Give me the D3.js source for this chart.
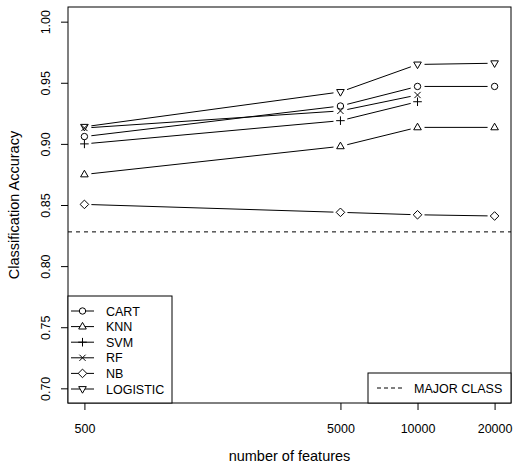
<!DOCTYPE html>
<html>
<head>
<meta charset="utf-8">
<script src="https://cdn.jsdelivr.net/npm/d3@7/dist/d3.min.js"></script>
<style>
  html, body { margin: 0; padding: 0; background: #fff; }
  svg { display: block; }
  text { font-family: "Liberation Sans", Arial, Helvetica, sans-serif; fill: #000; }
</style>
</head>
<body>
<svg id="chart" width="514" height="464"></svg>
<script>
// Number of features used for each experiment
const features = [500, 5000, 10000, 20000];
const xTickLabels = ["500", "5000", "10000", "20000"];
const yTicks = [0.70, 0.75, 0.80, 0.85, 0.90, 0.95, 1.00];

// Classification accuracy per classifier (null = not evaluated)
const cart     = [0.906, 0.931, 0.947, 0.947];
const knn      = [0.875, 0.898, 0.9135, 0.9135];
const svm      = [0.900, 0.919, 0.9345, null];
const rf       = [0.913, 0.927, 0.940, null];
const nb       = [0.8505, 0.844, 0.842, 0.841];
const logistic = [0.914, 0.9425, 0.965, 0.966];
const majorClass = 0.828;

const seriesNames = ["CART", "KNN", "SVM", "RF", "NB", "LOGISTIC"];
const seriesValues = [cart, knn, svm, rf, nb, logistic];
const seriesShapes = ["circle", "triUp", "plus", "cross", "diamond", "triDown"];

const svg = d3.select("#chart");
const box = { left: 68, right: 511, top: 7, bottom: 403 };

// Axis ranges padded by 4% on each side
const lx0 = Math.log10(500), lx1 = Math.log10(20000), lpad = (lx1 - lx0) * 0.04;
const x = d3.scaleLog()
  .domain([Math.pow(10, lx0 - lpad), Math.pow(10, lx1 + lpad)])
  .range([box.left, box.right]);
const y = d3.scaleLinear()
  .domain([0.7 - 0.012, 1.0 + 0.012])
  .range([box.bottom, box.top]);

// Point symbols
function symbolPath(shape) {
  switch (shape) {
    case "circle":  return "M3.2,0A3.2,3.2 0 1,1 -3.2,0A3.2,3.2 0 1,1 3.2,0Z";
    case "triUp":   return "M0,-4.2L3.8,2.4L-3.8,2.4Z";
    case "triDown": return "M0,4.2L3.8,-2.4L-3.8,-2.4Z";
    case "plus":    return "M-4.3,0L4.3,0M0,-4.3L0,4.3";
    case "cross":   return "M-3.1,-3.1L3.1,3.1M-3.1,3.1L3.1,-3.1";
    case "diamond": return "M0,-4.3L4.3,0L0,4.3L-4.3,0Z";
  }
}

const plot = svg.append("g");

// Reference line for the majority class
plot.append("line")
  .attr("x1", box.left).attr("x2", box.right)
  .attr("y1", y(majorClass)).attr("y2", y(majorClass))
  .attr("stroke", "#000").attr("stroke-width", 1)
  .attr("stroke-dasharray", "4,4");

// Lines with gaps around points, then symbols
const gap = 7;
seriesValues.forEach((vals, si) => {
  const pts = features.map((f, i) => vals[i] == null ? null : [x(f), y(vals[i])]).filter(p => p);
  const g = plot.append("g");
  for (let i = 0; i < pts.length - 1; i++) {
    const [x0, y0] = pts[i], [x1, y1] = pts[i + 1];
    const dx = x1 - x0, dy = y1 - y0, len = Math.hypot(dx, dy);
    if (len <= 2 * gap) continue;
    const ux = dx / len, uy = dy / len;
    g.append("line")
      .attr("x1", x0 + ux * gap).attr("y1", y0 + uy * gap)
      .attr("x2", x1 - ux * gap).attr("y2", y1 - uy * gap)
      .attr("stroke", "#000").attr("stroke-width", 1);
  }
  g.selectAll("path").data(pts).join("path")
    .attr("transform", d => `translate(${d[0]},${d[1]})`)
    .attr("d", symbolPath(seriesShapes[si]))
    .attr("fill", "none").attr("stroke", "#000").attr("stroke-width", 1);
});

// Plot frame
svg.append("rect")
  .attr("x", box.left).attr("y", box.top)
  .attr("width", box.right - box.left).attr("height", box.bottom - box.top)
  .attr("fill", "none").attr("stroke", "#000").attr("stroke-width", 1);

// X axis
const xAxis = d3.axisBottom(x)
  .tickValues(features)
  .tickFormat((d, i) => xTickLabels[i])
  .tickSize(7).tickPadding(14).tickSizeOuter(0);
const gx = svg.append("g").attr("transform", `translate(0,${box.bottom})`).call(xAxis);
gx.select(".domain").remove();
gx.selectAll("text").attr("font-size", "12.5px")
  .attr("font-family", "Liberation Sans, Arial, sans-serif").attr("dy", "0.71em");
gx.selectAll("line").attr("stroke", "#000");

// Y axis
const yAxis = d3.axisLeft(y)
  .tickValues(yTicks)
  .tickFormat(d3.format(".2f"))
  .tickSize(7).tickSizeOuter(0);
const gy = svg.append("g").attr("transform", `translate(${box.left},0)`).call(yAxis);
gy.select(".domain").remove();
gy.selectAll("line").attr("stroke", "#000");
gy.selectAll("text")
  .attr("font-size", "12.5px")
  .attr("font-family", "Liberation Sans, Arial, sans-serif")
  .attr("x", null).attr("dy", null)
  .attr("text-anchor", "middle")
  .attr("transform", "translate(-18,0) rotate(-90)");

// Axis titles
svg.append("text")
  .attr("x", (box.left + box.right) / 2).attr("y", 461)
  .attr("text-anchor", "middle").attr("font-size", "14.5px")
  .text("number of features");
svg.append("text")
  .attr("transform", `translate(19,${(box.top + box.bottom) / 2}) rotate(-90)`)
  .attr("text-anchor", "middle").attr("font-size", "14.5px")
  .text("Classification Accuracy");

// Classifier legend
const leg = svg.append("g");
leg.append("rect")
  .attr("x", box.left).attr("y", 296)
  .attr("width", 104).attr("height", box.bottom - 296)
  .attr("fill", "#fff").attr("stroke", "#000").attr("stroke-width", 1);
seriesNames.forEach((name, i) => {
  const ly = 311 + i * 15.6;
  leg.append("line").attr("x1", 71).attr("x2", 94).attr("y1", ly).attr("y2", ly)
    .attr("stroke", "#000").attr("stroke-width", 1);
  leg.append("path").attr("transform", `translate(82.5,${ly})`)
    .attr("d", symbolPath(seriesShapes[i]))
    .attr("fill", "#fff").attr("stroke", "#000").attr("stroke-width", 1);
  leg.append("text").attr("x", 106).attr("y", ly).attr("dy", "0.36em")
    .attr("font-size", "12.5px").text(name);
});

// Majority class legend
const leg2 = svg.append("g");
leg2.append("rect")
  .attr("x", 368).attr("y", 373)
  .attr("width", box.right - 368).attr("height", box.bottom - 373)
  .attr("fill", "#fff").attr("stroke", "#000").attr("stroke-width", 1);
leg2.append("line").attr("x1", 377).attr("x2", 402).attr("y1", 388).attr("y2", 388)
  .attr("stroke", "#000").attr("stroke-width", 1).attr("stroke-dasharray", "4,3");
leg2.append("text").attr("x", 414).attr("y", 388).attr("dy", "0.36em")
  .attr("font-size", "12.5px").text("MAJOR CLASS");
</script>
</body>
</html>
